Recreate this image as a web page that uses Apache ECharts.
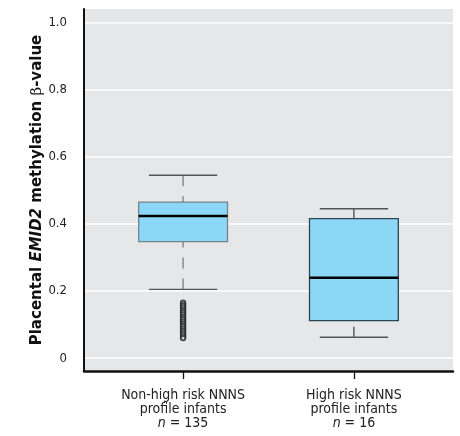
<!DOCTYPE html>
<html><head><meta charset="utf-8">
<script src="https://cdn.jsdelivr.net/npm/echarts@6/dist/echarts.min.js"></script>
<style>html,body{margin:0;padding:0;background:#fff}#c{width:460px;height:436px}</style>
</head><body><div id="c"></div>
<script>
var categories = ['Non-high risk NNNS|profile infants|135', 'High risk NNNS|profile infants|16'];
var positions = [1, 2];
// [low whisker, Q1, median, Q3, high whisker]
var boxStats = [
  [0.205, 0.347, 0.4235, 0.465, 0.545],
  [0.0625, 0.112, 0.240, 0.4155, 0.445]
];
var outliers1 = [0.165, 0.158, 0.151, 0.144, 0.137, 0.130, 0.123, 0.116, 0.109, 0.102, 0.095, 0.088, 0.081, 0.074, 0.067, 0.060];
var yTicks = [0, 0.2, 0.4, 0.6, 0.8, 1.0];

var FONT = "'DejaVu Sans Condensed','Liberation Sans',sans-serif";
var boxData = boxStats.map(function (s, i) { return [positions[i]].concat(s).concat([i]); });
var outlierData = outliers1.map(function (v) { return [positions[0], v]; });

function renderBox(params, api) {
  var x = api.value(0), lo = api.value(1), q1 = api.value(2), med = api.value(3), q3 = api.value(4), hi = api.value(5), idx = api.value(6);
  var band = api.size([1, 0])[0];
  var bw = band * 0.52, cw = band * 0.40;
  var pLo = api.coord([x, lo]), pQ1 = api.coord([x, q1]), pMed = api.coord([x, med]), pQ3 = api.coord([x, q3]), pHi = api.coord([x, hi]);
  var cx = pLo[0];
  var dashed = idx === 0;
  var wStyle = dashed ? { stroke: '#8c8c8c', lineWidth: 1.5, lineDash: [11, 10] } : { stroke: '#4a4a4a', lineWidth: 1.3 };
  var boxStroke = idx === 0 ? '#75838a' : '#2c4654';
  var loStart = dashed ? pQ1[1] : pQ1[1] + 6;
  return {
    type: 'group',
    children: [
      { type: 'line', shape: { x1: cx, y1: pHi[1], x2: cx, y2: pQ3[1] }, style: wStyle },
      { type: 'line', shape: { x1: cx, y1: pLo[1], x2: cx, y2: loStart }, style: wStyle },
      { type: 'line', shape: { x1: cx - cw / 2, y1: pHi[1], x2: cx + cw / 2, y2: pHi[1] }, style: { stroke: '#555', lineWidth: 1.4 } },
      { type: 'line', shape: { x1: cx - cw / 2, y1: pLo[1], x2: cx + cw / 2, y2: pLo[1] }, style: { stroke: '#555', lineWidth: 1.4 } },
      { type: 'rect', shape: { x: cx - bw / 2, y: pQ3[1], width: bw, height: pQ1[1] - pQ3[1] }, style: { fill: '#8dd7f6', stroke: boxStroke, lineWidth: 1.3 } },
      { type: 'line', shape: { x1: cx - bw / 2, y1: pMed[1], x2: cx + bw / 2, y2: pMed[1] }, style: { stroke: '#000', lineWidth: 2.5 } }
    ]
  };
}

var chart = echarts.init(document.getElementById('c'), null, { renderer: 'canvas' });
chart.setOption({
  animation: false,
  grid: { left: 84, right: 7, top: 9, bottom: 65, show: true, backgroundColor: '#e6e7e9', borderWidth: 0 },
  xAxis: {
    type: 'value', min: 0.42, max: 2.58,
    splitLine: { show: false },
    axisLine: { show: true, onZero: false, lineStyle: { color: '#111', width: 2.5 } },
    axisTick: { show: true, customValues: positions, length: 8, inside: false, lineStyle: { color: '#111', width: 1.3 } },
    axisLabel: {
      customValues: positions, margin: 17, color: '#222', fontFamily: FONT, fontSize: 14, lineHeight: 14, align: 'center',
      formatter: function (v) {
        var i = positions.indexOf(Math.round(v));
        if (i < 0) return '';
        var p = categories[i].split('|');
        return '{a|' + p[0] + '}\n{a|' + p[1] + '}\n{i|n}{a| = ' + p[2] + '}';
      },
      rich: {
        a: { fontFamily: FONT, fontSize: 14, lineHeight: 14, color: '#222' },
        i: { fontFamily: FONT, fontSize: 14, lineHeight: 14, color: '#222', fontStyle: 'italic' }
      }
    }
  },
  yAxis: {
    type: 'value', min: -0.038, max: 1.04,
    axisLine: { show: true, onZero: false, lineStyle: { color: '#111', width: 2 } },
    axisTick: { show: false, customValues: yTicks },
    splitLine: { show: true, lineStyle: { color: '#ffffff', width: 1.5 } },
    axisLabel: {
      customValues: yTicks, margin: 17, color: '#222', fontFamily: FONT, fontSize: 13,
      formatter: function (v) { return Math.abs(v) < 1e-9 ? '0' : v.toFixed(1); }
    },
    name: '{b|Placental }{bi|EMID2}{b| methylation }{r|β}{b|-value}',
    nameLocation: 'middle', nameRotate: 90, nameGap: 39, nameMoveOverlap: false,
    nameTextStyle: {
      rich: {
        b: { fontFamily: "'DejaVu Sans',sans-serif", fontSize: 15, fontWeight: 'bold', color: '#111' },
        bi: { fontFamily: "'DejaVu Sans',sans-serif", fontSize: 15, fontWeight: 'bold', fontStyle: 'italic', color: '#111' },
        r: { fontFamily: "'DejaVu Serif','Liberation Serif',serif", fontSize: 15, color: '#111' }
      }
    }
  },
  series: [
    { type: 'custom', renderItem: renderBox, data: boxData, encode: { x: 0, y: [1, 2, 3, 4, 5] }, z: 3 },
    { type: 'scatter', data: outlierData, symbol: 'emptyCircle', symbolSize: 4.5,
      itemStyle: { color: '#222', borderColor: '#222', borderWidth: 1 }, z: 4 }
  ]
});
</script></body></html>
